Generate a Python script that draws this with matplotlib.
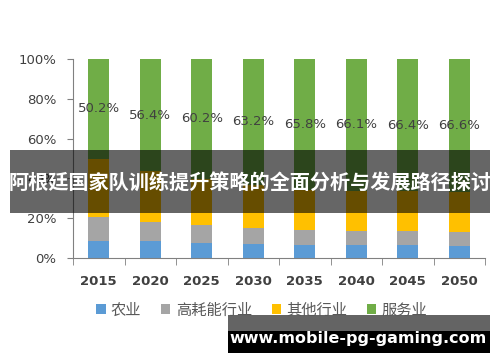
import matplotlib
matplotlib.use("Agg")
import matplotlib.pyplot as plt
from matplotlib.patches import Rectangle
import numpy as np

plt.rcParams['font.family'] = ['DejaVu Sans', 'Noto Sans CJK SC']

years = ["2015", "2020", "2025", "2030", "2035", "2040", "2045", "2050"]
agriculture = [8.7, 8.5, 7.4, 7.0, 6.5, 6.5, 6.3, 6.2]
high_energy = [12.1, 9.8, 9.2, 7.9, 7.6, 7.2, 7.2, 7.1]
services = [50.2, 56.4, 60.2, 63.2, 65.8, 66.1, 66.4, 66.6]
other = [round(100 - a - h - s, 1) for a, h, s in zip(agriculture, high_energy, services)]
series_names = ["农业", "高耗能行业", "其他行业", "服务业"]
colors = ["#5B9BD5", "#A5A5A5", "#FFC000", "#70AD47"]
title_banner = "阿根廷国家队训练提升策略的全面分析与发展路径探讨"
watermark = "www.mobile-pg-gaming.com"

W, H = 500, 362
fig = plt.figure(figsize=(W / 100, H / 100), dpi=100)
ax = fig.add_axes([73 / W, 1 - 258 / H, (485 - 73) / W, (258 - 59) / H])

x = np.arange(len(years))
bw = 0.40
bottom = np.zeros(len(years))
for vals, name, c in zip([agriculture, high_energy, other, services], series_names, colors):
    ax.bar(x, vals, bw, bottom=bottom, color=c, label=name, zorder=2)
    bottom += np.array(vals)

svc_bottom = 100 - np.array(services)
for i, s in enumerate(services):
    ax.text(x[i], svc_bottom[i] + s / 2, f"{s}%", ha="center", va="center",
            fontsize=9.5, color="#404040", zorder=3)

ax.set_xlim(-0.5, len(years) - 0.5)
ax.set_ylim(0, 100)
ax.set_yticks([0, 20, 40, 60, 80, 100])
ax.set_yticklabels([f"{v}%" for v in [0, 20, 40, 60, 80, 100]])
ax.set_xticks(x)
ax.set_xticklabels(years)
ax.set_xticks(np.arange(-0.5, len(years), 1.0), minor=True)
ax.tick_params(axis="x", which="major", length=0, pad=12, labelsize=9.5, labelcolor="#404040")
ax.tick_params(axis="x", which="minor", length=5, color="#808080", direction="out")
ax.tick_params(axis="y", length=4, color="#808080", pad=8, labelsize=9.5, labelcolor="#404040")
for lab in ax.get_xticklabels():
    lab.set_fontweight("bold")
for sp in ["top", "right"]:
    ax.spines[sp].set_visible(False)
ax.spines["left"].set_color("#808080")
ax.spines["bottom"].set_color("#808080")

leg = fig.legend(loc="center", bbox_to_anchor=(262 / W, 1 - 310 / H), ncol=4, frameon=False,
                 prop={"family": ["Noto Sans CJK SC"], "size": 11},
                 handlelength=0.6, handleheight=0.6, handletextpad=0.35, columnspacing=1.3)
for t in leg.get_texts():
    t.set_color("#595959")

# overlay banner
fig.patches.append(Rectangle((10 / W, 1 - 213 / H), 480 / W, 63 / H, transform=fig.transFigure,
                             facecolor="black", alpha=0.6, edgecolor="none", zorder=5))
fig.text(250 / W, 1 - 183 / H, title_banner, ha="center", va="center", color="white",
         fontsize=14.5, fontweight="bold", family=["Noto Sans CJK SC"], zorder=6)

# watermark
fig.patches.append(Rectangle((228 / W, 1 - 331 / H), 262 / W, 16 / H, transform=fig.transFigure,
                             facecolor="#646464", edgecolor="none", zorder=5))
fig.patches.append(Rectangle((228 / W, 1 - 353 / H), 262 / W, 22 / H, transform=fig.transFigure,
                             facecolor="black", edgecolor="none", zorder=5))
fig.text(358 / W, 1 - 338 / H, watermark, ha="center", va="center", color="white",
         fontsize=11.5, fontweight="bold", zorder=6)

fig.savefig("out.png", dpi=100)
